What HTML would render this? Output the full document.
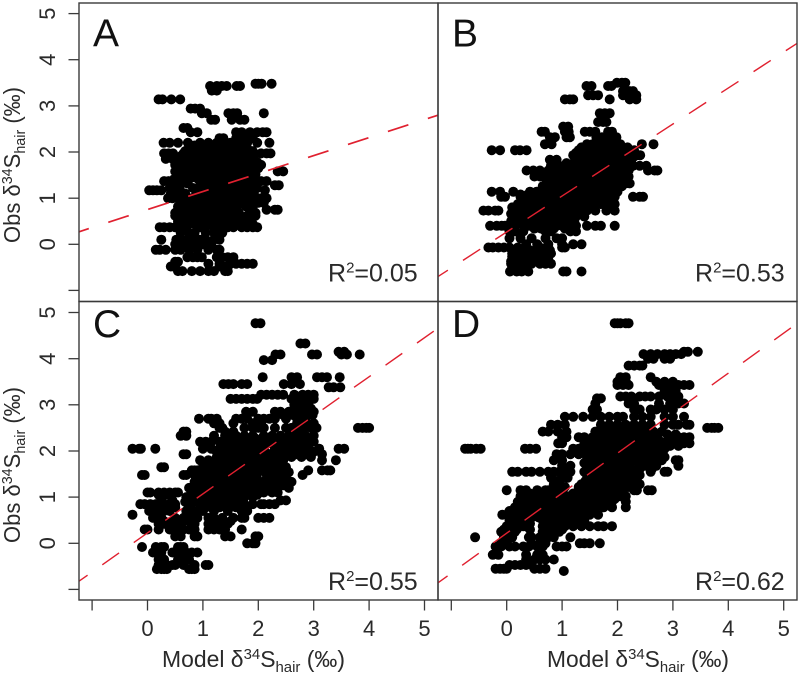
<!DOCTYPE html>
<html lang="en">
<head>
<meta charset="utf-8">
<title>Observed vs model hair sulfur isotope values</title>
<style>
html,body{margin:0;padding:0;background:#fff}
svg{display:block;font-family:"Liberation Sans",sans-serif}
</style>
</head>
<body>
<svg id="chart" xmlns="http://www.w3.org/2000/svg" width="800" height="678" viewBox="0 0 800 678">
  <rect x="0" y="0" width="800" height="678" fill="#fff"/>
  <g id="plots"></g>
  <g fill="#2a2a2a" font-size="23">
    <text transform="translate(20,243) rotate(-90)" textLength="156" lengthAdjust="spacingAndGlyphs">Obs δ<tspan font-size="15" dy="-8">34</tspan><tspan dy="8">S</tspan><tspan font-size="15" dy="5">hair</tspan><tspan dy="-5"> (‰)</tspan></text>
    <text transform="translate(20,543) rotate(-90)" textLength="156" lengthAdjust="spacingAndGlyphs">Obs δ<tspan font-size="15" dy="-8">34</tspan><tspan dy="8">S</tspan><tspan font-size="15" dy="5">hair</tspan><tspan dy="-5"> (‰)</tspan></text>
  </g>
  <g fill="#2a2a2a" font-size="23">
    <text x="162" y="667" textLength="183" lengthAdjust="spacingAndGlyphs">Model δ<tspan font-size="15" dy="-8">34</tspan><tspan dy="8">S</tspan><tspan font-size="15" dy="5">hair</tspan><tspan dy="-5"> (‰)</tspan></text>
    <text x="547" y="667" textLength="182" lengthAdjust="spacingAndGlyphs">Model δ<tspan font-size="15" dy="-8">34</tspan><tspan dy="8">S</tspan><tspan font-size="15" dy="5">hair</tspan><tspan dy="-5"> (‰)</tspan></text>
  </g>
</svg>
<script>
const yTickValues = [-1, 0, 1, 2, 3, 4, 5];
const xTickValues = [-1, 0, 1, 2, 3, 4, 5];
const yTickLabels = ["", "0", "1", "2", "3", "4", "5"];
const xTickLabels = ["", "0", "1", "2", "3", "4", "5"];
const panelLetters = ["A", "B", "C", "D"];
const rSquaredValues = ["0.05", "0.53", "0.55", "0.62"];
const fitIntercepts = [0.752, 0.267, 0.225, 0.22];
const fitSlopes = [0.39, 0.78, 0.846, 0.867];

const panelAObs = [3.48,3.43,3.33,3.14,2.94,2.84,2.7,2.52,2.43,2.3,2.2,2.08,1.97,1.85,1.72,1.58,1.45,1.37,1.28,1.17,1.0,0.9,0.75,0.62,0.5,0.37,0.25,0.1,0,-0.12,-0.28,-0.38,-0.42,-0.48,-0.58,
2.14,2.02,1.91,1.78,1.65,1.52,1.41,1.32,1.22,1.1,0.95,0.82,0.68,0.56,0.44];
const panelAModel = [
[1.95,2.0,2.06,2.24],
[1.13,1.25,1.34,1.43,1.61,1.67],
[1.16,1.25],
[0.2,0.27,0.43,0.59],
[0.78,0.86,0.95],
[0.98,1.07,1.46,1.55,1.62,2.1],
[1.15,1.22,1.52,1.67,1.75],
[0.65,0.72],
[0.78,0.9,1.6,1.7,1.85,1.98,2.08,2.15],
[1.3,1.37,1.6,1.75,1.85,1.9],
[0.29,0.4,0.55,0.73,0.95,1.1,1.25,1.4,1.5,1.65,1.8,1.98,2.2],
[0.75,0.9,1.05,1.2,1.35,1.5,1.65,1.8],
[0.3,0.38,0.46,0.65,0.8,0.95,1.1,1.25,1.4,1.55,1.7,1.85,2.05,2.15,2.22],
[0.33,0.45,0.55,0.7,0.85,1.0,1.15,1.3,1.45,1.6,1.75,1.9],
[0.5,0.62,0.75,0.9,1.05,1.2,1.35,1.5,1.65,1.8,1.95,2.05],
[0.5,0.6,0.7,0.85,1.0,1.15,1.3,1.45,1.6,1.75,1.9,2.35,2.45],
[0.55,0.7,0.85,1.0,1.15,1.3,1.45,1.6,1.75,1.9],
[0.3,0.38,0.5,0.62,1.0,1.2,1.35,1.5,1.65,1.8,2.05,2.15],
[0.55,0.95,1.1,1.25,1.4,1.55,1.7,1.85,2.3,2.37],
[0.03,0.1,0.17,0.25,0.5,0.9,1.05,1.2,1.35,1.5,1.65,1.8,1.9,2.12],
[0.37,0.45,0.55,0.62,0.8,0.95,1.1,1.25,1.4,1.55,1.75,1.85,2.05,2.15],
[0.6,0.75,0.9,1.05,1.2,1.35,1.5,1.65,1.85,2.0,2.1],
[0.55,0.7,0.85,1.0,1.15,1.3,1.45,1.6,1.85,2.15,2.3,2.35],
[0.5,0.6,0.7,0.8,1.0,1.2,1.4,1.6,1.8,1.95],
[0.55,0.7,0.9,1.0,1.1,1.2,1.3,1.4,1.5,1.6,1.75,1.85],
[0.22,0.3,0.4,0.5,0.6,0.7,0.95,1.05,1.2,1.3,1.45,1.55,1.7,1.8,1.9,1.98],
[0.6,0.75,0.85,1.05,1.2,1.35],
[0.25,0.52,0.62,0.72,0.8,0.95,1.05,1.2,1.3],
[0.5,0.6,0.7,0.85,1.0,1.15],
[0.15,0.22,0.33,0.5,0.6,0.75,0.9,1.1,1.25,1.3],
[0.72,0.82,0.9,0.98,1.25,1.35,1.45,1.55],
[0.5,0.55],
[1.1,1.3,1.5,1.6,1.7,1.8,1.9],
[0.42,0.47,1.3,1.4,1.45],
[0.55,0.63,0.8,0.95,1.1,1.2,1.4,1.45],
[0.75,0.85,1.0,1.12,1.22,1.32,1.45,1.55,1.68,1.78],
[0.68,0.82,0.92,1.02,1.12,1.22,1.32,1.42,1.52,1.62,1.72,1.82,1.9],
[0.6,0.72,0.82,0.92,1.02,1.12,1.22,1.32,1.42,1.52,1.62,1.72,1.82,1.92],
[0.55,0.68,0.78,0.88,0.98,1.08,1.18,1.28,1.38,1.48,1.58,1.68,1.78,1.88,1.98],
[0.55,0.66,0.78,0.92,1.08,1.22,1.38,1.52,1.68,1.82,1.92,2.0],
[0.55,0.66,0.78,0.92,1.08,1.22,1.38,1.52,1.68,1.82,1.95],
[0.48,0.6,0.75,0.92,1.08,1.22,1.38,1.52,1.68,1.85,1.95],
[0.72,1.05,1.15,1.28,1.42,1.58,1.72,1.92],
[0.4,0.48,0.58,0.82,0.98,1.12,1.28,1.42,1.58,1.72,1.85,1.98],
[0.42,0.52,0.68,0.88,1.02,1.18,1.32,1.48,1.62,1.78,1.92],
[0.62,0.72,0.82,0.98,1.12,1.28,1.42,1.58,1.72,1.95],
[0.55,0.65,0.75,0.88,1.08,1.28,1.42,1.62,1.78,1.9],
[0.5,0.6,0.7,0.85,1.05,1.25,1.45,1.65,1.85,1.95],
[0.6,0.7,0.8,0.92,1.1,1.3,1.45,1.55,1.7],
[0.55,0.65,0.75,0.85,1.05,1.25,1.35,1.55,1.7,1.9]
];

const panelBObs = [3.5,3.43,3.32,3.23,3.14,2.84,2.65,2.55,2.44,2.32,2.17,2.04,1.93,1.83,1.7,1.6,1.47,1.32,1.14,1.03,0.87,0.73,0.6,0.4,0.28,0.13,0,-0.07,-0.2,-0.33,-0.42,-0.59,
2.1,1.98,1.88,1.76,1.65,1.53,1.4,1.26,1.08,0.95,0.8,0.66,0.5,0.34,-0.13,-0.27,-0.37,-0.5];
const panelBModel = [
[1.99,2.08,2.14],
[1.44,1.53,1.83,1.89],
[2.1,2.22,2.28],
[1.47,1.56,1.65,2.1,2.22,2.34],
[1.05,1.14,1.2,1.86,2.22,2.34],
[1.68,1.77,1.86],
[1.65,1.74,1.8],
[1.02,1.11],
[0.63,0.69,1.05,1.12,1.41,1.5,1.6,1.83,1.9],
[0.78,0.87,1.08,1.14,1.62,1.72,1.82,1.92,1.98],
[0.69,0.81,1.45,1.55,1.65,1.75,1.85,1.95,2.05,2.44,2.65],
[-0.27,-0.12,0.15,0.24,0.36,1.3,1.4,1.5,1.6,1.7,1.8,1.9,2.0,2.1,2.2,2.3],
[1.2,1.3,1.45,1.55,1.65,1.75,1.85,1.95,2.05,2.15,2.35,2.41],
[0.78,0.9,1.25,1.4,1.5,1.6,1.7,1.8,1.9,2.0,2.1,2.2],
[0.8,0.95,1.3,1.45,1.55,1.65,1.75,1.85,1.95,2.05,2.15,2.28,2.4,2.52],
[0.36,0.48,0.6,0.75,0.85,1.05,1.2,1.35,1.5,1.65,1.8,1.95,2.1,2.2,2.55,2.67,2.72],
[0.5,0.6,0.7,0.8,0.9,1.05,1.2,1.35,1.5,1.65,1.8,1.95,2.1,2.2],
[0.75,0.9,1.05,1.2,1.35,1.5,1.65,1.8,1.95,2.15,2.22],
[-0.27,-0.12,0.12,0.42,0.54,0.7,0.85,1.0,1.1,1.25,1.4,1.55,1.7,1.85,2.0],
[-0.1,-0.03,0.25,0.35,0.5,0.7,0.85,1.0,1.2,1.4,1.6,1.8,1.95,2.28,2.4,2.46],
[0.2,0.35,0.45,0.7,0.8,0.9,1.0,1.1,1.25,1.4,1.55,1.7,1.85,1.95],
[-0.42,-0.33,-0.21,-0.15,0.15,0.25,0.6,0.7,0.8,0.9,1.0,1.1,1.3,1.45,1.6,1.8,1.95],
[0.15,0.3,0.4,0.6,0.7,0.8,0.9,1.0,1.15,1.25,1.4],
[-0.3,-0.18,-0.09,-0.03,0.05,0.15,0.3,0.4,0.55,0.7,0.8,0.9,1.0,1.2,1.25,1.45,1.6,1.7,1.95],
[0.05,0.15,0.3,0.7,0.8,1.15,1.25],
[0.05,0.25,0.45,0.7,0.9,1.0],
[0.35,0.55,0.75,1.0,1.2,1.35],
[-0.33,-0.25,-0.15,-0.05,0.05,0.2,0.35,0.6,0.75,1.0,1.05],
[0.1,0.2,0.35,0.5,0.6,0.8],
[0.1,0.2,0.3,0.4,0.55,0.65,0.75],
[0.08,0.2,0.3,0.45,0.6,0.7,0.8],
[0.06,0.18,0.27,0.39,1.02,1.08,1.35],
[1.35,1.48,1.58,1.68,1.78,1.88,1.98,2.08,2.18],
[1.25,1.38,1.48,1.58,1.68,1.78,1.88,1.98,2.08,2.18,2.28],
[1.28,1.38,1.48,1.58,1.68,1.78,1.88,1.98,2.08,2.18,2.28],
[1.08,1.2,1.32,1.42,1.52,1.62,1.72,1.82,1.92,2.02,2.12,2.25],
[0.95,1.1,1.22,1.32,1.42,1.52,1.62,1.72,1.82,1.92,2.02,2.12,2.22],
[0.85,0.95,1.08,1.18,1.28,1.38,1.48,1.58,1.68,1.78,1.88,1.98,2.08,2.18],
[0.72,0.85,0.95,1.08,1.18,1.28,1.38,1.48,1.58,1.68,1.78,1.88,1.98,2.12],
[0.65,0.78,0.9,1.0,1.1,1.2,1.3,1.4,1.5,1.6,1.7,1.82,1.95,2.08],
[0.25,0.38,0.6,0.72,0.82,0.92,1.02,1.12,1.22,1.32,1.42,1.52,1.62,1.75,1.9],
[0.3,0.5,0.62,0.72,0.82,0.92,1.02,1.12,1.22,1.32,1.42,1.52,1.65,1.8],
[0.1,0.28,0.42,0.55,0.65,0.75,0.85,0.95,1.05,1.15,1.25,1.35,1.5],
[0.08,0.2,0.35,0.5,0.62,0.72,0.82,0.92,1.02,1.12,1.22,1.32],
[0.08,0.2,0.35,0.5,0.62,0.72,0.82,0.92,1.02,1.12,1.22],
[0.5,0.62,0.72,0.85,1.05,1.15],
[0.15,0.28,0.42,0.55,0.68,0.78],
[0.1,0.25,0.38,0.5,0.62,0.72],
[0.08,0.18,0.3,0.42,0.55,0.65],
[0.1,0.22,0.35]
];

const panelCObs = [4.77,4.33,4.15,4.09,3.97,3.6,3.45,3.38,3.22,3.13,3.0,2.85,2.7,2.6,2.5,2.42,2.33,2.2,2.05,1.93,1.8,1.65,1.58,1.48,1.33,1.2,1.1,1.0,0.93,0.85,0.7,0.62,0.55,0.42,0.3,0.15,0,-0.08,-0.2,-0.35,-0.47,-0.56,
2.27,2.12,1.98,1.87,1.72,1.54,1.4,1.26,1.15,1.05,0.9,0.78,0.48,2.92,2.78];
const panelCModel = [
[1.95,2.04],
[2.76,2.85],
[3.45,3.55],
[2.31,2.4,2.97,3.06,3.5,3.6,3.83],
[2.1,2.25],
[2.08,2.6,2.7,3.06,3.15,3.24,3.47],
[1.37,1.46,1.55,1.7,1.8,2.46,2.6,2.75],
[3.27,3.36,3.48],
[2.05,2.15,2.25,2.35,2.45,2.65,2.8,2.9,3.0],
[1.5,1.6,1.7,1.8,1.9,1.98,2.6,2.75,2.85,3.0],
[2.65,2.8,2.9],
[1.78,1.9,2.3,2.4,2.55,2.7,2.8,3.0],
[0.93,1.1,1.15,1.25,1.6,1.7,1.8,2.0,2.1,2.2,2.3,2.5,2.7,2.85],
[1.2,1.3,1.55,1.9,2.05,2.7,2.85,3.0],
[1.3,1.35,1.75,1.9,2.0,2.1,2.3,2.5,2.6,2.8,2.95,3.05,3.8,3.88,3.95,4.0],
[0.65,0.7,1.4,1.55,2.65,2.8],
[0.6,0.7,1.2,1.4,1.5,1.6,1.75,1.9,2.1,2.25,2.4,2.55,2.7,2.85,3.0],
[0.95,1.05,1.15,1.3,1.45,1.6,1.75,1.9,2.05,2.2,2.35,2.5,2.65,2.8,3.0],
[-0.27,-0.15,-0.12,0.14,1.0,1.15,1.3,1.45,1.55,1.7,1.85,2.0,2.4,2.6,2.75,2.9,3.1,3.45,3.55],
[0.65,0.7,1.3,1.45,1.6,1.75,1.9,2.05,2.2,2.35,2.55,2.7,2.85,3.15],
[0.95,1.1,1.25,1.4,1.55,1.7,1.85,2.0,2.15,2.3,2.45,3.15,3.4],
[0.25,0.3,1.0,1.15,1.3,1.45,1.6,1.75,1.9,2.05,2.2,2.35,2.5],
[0.8,0.85,0.9,2.9,3.15,3.25,3.3],
[-0.1,-0.05,0.65,0.7,0.85,1.0,1.15,1.3,1.45,1.6,1.75,1.9,2.2,2.4,2.5,2.8],
[0.85,1.0,1.15,1.3,1.45,1.6,1.75,1.9,2.1,2.25,2.4,2.6],
[0.75,0.9,1.05,1.2,1.35,1.5,1.65,1.8,1.95,2.05,2.2,2.35,2.55],
[0,0.05,0.2,0.3,0.4,0.5,0.55,0.85,1.0,1.15,1.3,1.45,1.6,1.75,1.9,2.1,2.25,2.35],
[0.7,0.95,1.1,1.25,1.4,1.6,1.75,1.9],
[2.4,2.5,0.25,0.45],
[-0.13,-0.05,0.05,0.15,0.3,0.4,0.5,0.95,1.1,1.25,1.4,1.6,1.75,1.9,2.05,2.1,2.2,2.3],
[0.03,0.1,0.2,0.3,0.4,0.7,0.85,1.0,1.2,1.45,1.7,1.8],
[-0.27],
[0.1,0.2,0.25,0.5,0.65,0.8,0.9,1.1,1.2,1.35,1.55,1.7,1.75,2.0,2.1,2.2],
[0.2,0.3,0.4,0.5,0.6,0.85,1.1,1.3,1.45],
[-0.05,0,0.2,0.4,0.45,0.55,0.65,0.75,0.85,1.1,1.2,1.3,1.4,1.7],
[0.5,0.6,0.85,0.9,1.4,1.5,1.95,2.0],
[1.8,1.9,1.95],
[-0.1,0.15,0.25,0.3,0.55,0.6,0.65],
[0.1,0.15,0.25,0.45,0.5,0.6,0.7,0.8,0.9],
[0.2,0.3,0.55,0.7,0.75],
[0.2,0.3,0.35,0.45,0.5,0.65,0.85,1.05,1.1],
[0.17,0.25,0.3,0.35,0.75,0.8,0.85],
[1.55,1.68,1.82,1.95,2.08,2.2,2.32,2.45,2.58,2.72,2.88],
[1.38,1.52,1.68,1.82,1.95,2.12,2.28,2.42,2.58,2.72,2.9],
[1.25,1.38,1.52,1.68,1.82,1.95,2.12,2.28,2.5,2.68,2.85,3.0],
[1.25,1.38,1.52,1.68,1.82,1.95,2.12,2.4,2.6,2.78,2.95],
[1.05,1.18,1.32,1.48,1.62,1.78,1.92,2.1,2.3,2.42],
[1.08,1.22,1.38,1.52,1.68,1.82,1.98,2.12,2.3,2.45,2.55],
[0.95,1.08,1.22,1.38,1.52,1.68,1.82,1.98,2.15,2.3,2.5],
[0.9,1.02,1.18,1.28,1.42,1.58,1.7,1.85,1.98,2.3,2.45],
[0.82,0.92,1.08,1.22,1.38,1.52,1.68,1.82,2.2,2.32],
[0.2,0.35,0.78,0.9,1.05,1.2,1.35,1.5,1.65,1.8,1.98],
[0.68,0.82,0.95,1.1,1.25,1.42,1.58,1.72],
[0.15,0.5,0.75,0.95,1.05,1.15,1.3,1.45,1.6,1.78],
[0.3,0.45,0.65,0.75,1.2,1.35,1.5],
[2.65,2.72,2.85,2.95],
[2.45,2.62,2.72,2.88,2.98]
];

const panelDObs = [4.77,4.15,4.1,4.0,3.85,3.6,3.5,3.43,3.3,3.18,3.14,3.03,2.9,2.74,2.57,2.5,2.42,2.3,2.17,2.05,1.93,1.8,1.68,1.55,1.42,1.28,1.15,1.02,0.9,0.78,0.62,0.5,0.37,0.25,0.13,0,-0.07,-0.25,-0.35,-0.47,-0.55,-0.6,
2.36,2.23,2.11,1.99,1.87,1.74,1.61,1.48,1.35,1.22,1.08,0.96,0.84,0.7,0.56,0.43,0.3];
const panelDModel = [
[1.95,2.0,2.05,2.15,2.2],
[3.2,3.27,3.45],
[2.47,2.6,2.72,2.85,2.95,3.05,3.15],
[2.55,2.65,2.85,2.95],
[2.2,2.3,2.4,2.45],
[2.05,2.15,2.6],
[2.0,2.1,2.15,2.7,2.85,3.0],
[2.0,2.1,2.2,2.75,2.85,2.95,3.1,3.2,3.3],
[2.85,2.95,3.05],
[2.05,2.15,2.25,2.4,2.5,2.6,2.75,2.9,3.0,3.1],
[1.63,1.7],
[1.6,2.2,2.3,2.75,2.95,3.1,3.2],
[1.55,1.63,2.3,2.4,2.6,2.7,2.85,3.0],
[1.05,1.2,1.38,1.55,1.7,1.85,2.0,2.1,2.3,2.45,2.6,2.85,3.0,3.2],
[0.8,0.92,1.05,1.7,1.85,2.0,2.15,2.3,2.45,2.6,2.85,3.0,3.1,3.25,3.3],
[3.62,3.7,3.75,3.82],
[0.65,0.75,0.92,1.08,1.6,1.75,1.9,2.05,2.2,2.35,2.5,2.65,2.8],
[1.0,1.08,1.3,1.4,1.55,1.7,1.85,2.0,2.15,2.3,2.5,2.65,3.0,3.1,3.2,3.3],
[0.93,1.0,1.4,1.55,1.7,1.85,2.0,2.15,2.3,2.45,2.6,2.75,2.85,3.2,3.3],
[-0.75,-0.7,-0.65,-0.55,-0.47,0.33,0.42,0.53,1.2,1.3,1.5,1.65,1.8,1.95,2.1,2.25,2.4,2.55,2.7,2.85],
[0.9,1.0,1.15,1.3,1.55,1.7,1.85,2.0,2.15,2.3,2.45,2.6,2.75],
[0.85,1.0,1.5,1.65,1.8,1.95,2.1,2.3,2.45,2.6,2.8,3.05,3.1],
[1.0,1.15,1.55,1.7,1.9,2.05,2.2,2.5,2.7,3.1],
[0.1,0.2,0.35,0.45,0.6,0.75,0.85,0.95,1.05,1.15,1.4,1.55,1.7,1.85,2.05,2.3,2.6,2.85,2.9],
[0.8,1.0,1.1,1.5,1.65,1.8,1.95,2.1,2.35],
[0.85,0.95,1.35,1.5,1.65,1.8,1.95,2.15,2.3,2.4],
[0,0.25,0.35,0.55,0.7,0.75,0.85,1.0,1.35,1.5,1.65,1.8,1.95,2.1,2.3,2.35,2.55,2.62],
[0.25,0.35,0.5,0.7,0.8,0.95,1.1,1.25,1.4,1.55,1.7,1.85,2.05,2.15],
[0.2,0.3,0.4,0.55,0.85,1.0,1.15,1.3,1.45,1.6,1.75,1.9,2.15],
[0.15,0.25,0.35,0.5,0.65,0.8,0.95,1.1,1.3,1.45,1.6,1.75,1.9,2.15],
[-0.08,0,0.15,0.3,0.45,0.6,0.7,0.85,1.0,1.15,1.35,1.5,1.65],
[0.05,0.15,0.25,0.4,0.65,0.8,0.95,1.05,1.25,1.4],
[0,0.1,0.3,0.35,0.65,0.75,0.9,1.05,1.2,1.35,1.5,1.65,1.75,1.9],
[-0.1,0.05,0.15,0.65,0.8,0.95],
[-0.57,-0.05,0.1,0.4,0.45,0.6,0.75,0.85,1.15],
[-0.1,0,0.45,0.6,0.7,1.32,1.4,1.5,1.68],
[-0.2,-0.1,0.05,0.15,0.3,0.4,0.55,0.65,0.9,1.0,1.08],
[-0.25,-0.15,0.35,0.55,0.65],
[0.35,0.5,0.6,0.7,0.85],
[0.05,0.15,0.25,0.35,0.45],
[-0.2,-0.12,-0.05,0,0.5,0.6,0.7],
[1.03],
[1.62,1.82,1.98,2.12,2.28,2.42,2.58,2.72,2.9,3.05],
[1.48,1.62,1.78,1.92,2.08,2.22,2.4,2.58,2.75,2.9,3.05],
[1.48,1.62,1.78,1.92,2.08,2.22,2.38,2.52,2.68,2.8,2.95,3.1],
[1.42,1.58,1.72,1.92,2.08,2.22,2.38,2.52,2.68,2.82],
[1.45,1.62,1.78,1.92,2.08,2.22,2.38,2.52,2.68,2.85],
[1.4,1.58,1.72,1.88,2.02,2.18,2.38,2.55,2.7],
[1.45,1.62,1.78,1.92,2.1,2.25,2.4,2.62],
[1.05,1.45,1.58,1.72,1.88,2.02,2.18,2.3,2.4],
[0.9,1.42,1.58,1.72,1.88,2.02,2.2,2.35],
[0.88,1.05,1.3,1.42,1.58,1.72,1.88,2.02,2.2,2.35],
[0.3,0.42,0.65,0.85,1.2,1.35,1.5,1.62,1.78,1.92,2.08],
[0.28,0.42,0.58,0.72,0.88,1.05,1.2,1.35,1.5,1.62,1.78,1.95],
[0.2,0.3,0.42,0.6,0.72,0.9,1.05,1.2,1.38,1.52,1.68,1.82],
[0.05,0.18,0.28,0.4,0.55,0.72,0.88,1.05,1.22,1.38,1.55],
[0.08,0.2,0.32,0.45,0.58,0.72,0.88,1.02,1.18,1.32],
[0.05,0.2,0.3,0.42,0.7,0.85,1.0,1.15,1.3],
[-0.05,0.08,0.18,0.42,0.7,0.85,1.0]
];

const obsByPanel = [panelAObs, panelBObs, panelCObs, panelDObs];
const modelByPanel = [panelAModel, panelBModel, panelCModel, panelDModel];

const NS = "http://www.w3.org/2000/svg";
const plots = document.getElementById("plots");
const COL_LEFT = [79, 438];
const COL_RIGHT = [438, 797];
const ROW_TOP = [3, 301.5];
const ROW_BOTTOM = [301.5, 600];
const X_ZERO = [147.5, 506.7];
const Y_ZERO = [244.3, 543.3];
const X_UNIT = 55.4;
const Y_UNIT = 46.15;
const AXIS_COLOR = "#3a3a3a";
const FIT_COLOR = "#e0202f";
const DASH_PATTERNS = ["21.5 20.5", "20.5 18", "20.5 18", "20.5 18"];
const DASH_OFFSETS = [11.2, 8.7, 10, 8.7];
const FIT_WIDTHS = [1.7, 1.4, 1.4, 1.4];

function xScale(col, v) { return X_ZERO[col] + v * X_UNIT; }
function yScale(row, v) { return Y_ZERO[row] - v * Y_UNIT; }
function xInvert(col, px) { return (px - X_ZERO[col]) / X_UNIT; }

function make(tag, attrs, parent) {
  const el = document.createElementNS(NS, tag);
  for (const k in attrs) el.setAttribute(k, attrs[k]);
  parent.appendChild(el);
  return el;
}

panelLetters.forEach(function (letter, i) {
  const key = letter.toLowerCase();
  const col = i % 2;
  const row = i < 2 ? 0 : 1;
  const g = make("g", {}, plots);
  
  

  const pts = make("g", { fill: "#000" }, g);
  
  
  obsByPanel[i].forEach(function (obs, r) {
    (modelByPanel[i][r] || []).forEach(function (model) {
      const c = make("circle", { cx: xScale(col, model).toFixed(1), cy: yScale(row, obs).toFixed(1), r: 5 }, pts);
      
      
    });
  });

  const xa = xInvert(col, COL_LEFT[col]);
  const xb = xInvert(col, COL_RIGHT[col]);
  const fit = make("line", {
    x1: COL_LEFT[col], x2: COL_RIGHT[col],
    y1: yScale(row, fitIntercepts[i] + fitSlopes[i] * xa).toFixed(1),
    y2: yScale(row, fitIntercepts[i] + fitSlopes[i] * xb).toFixed(1),
    stroke: FIT_COLOR, "stroke-width": FIT_WIDTHS[i],
    "stroke-dasharray": DASH_PATTERNS[i], "stroke-dashoffset": DASH_OFFSETS[i]
  }, g);
  
  

  const frame = make("rect", {
    x: COL_LEFT[col], y: ROW_TOP[row],
    width: COL_RIGHT[col] - COL_LEFT[col], height: ROW_BOTTOM[row] - ROW_TOP[row],
    fill: "none", stroke: AXIS_COLOR, "stroke-width": 1.4
  }, g);
  
  

  const lab = make("text", {
    x: COL_LEFT[col] + 14, y: row === 0 ? 46.5 : 337,
    "font-size": 39, fill: "#111"
  }, g);
  lab.textContent = letter;
  
  

  const r2 = make("text", {
    x: col === 0 ? 328 : 695, y: row === 0 ? 281.7 : 590,
    "font-size": 25, fill: "#2a2a2a"
  }, g);
  
  
  r2.appendChild(document.createTextNode("R"));
  const sup = make("tspan", { "font-size": 15, dy: -9 }, r2);
  sup.textContent = "2";
  const rest = make("tspan", { dy: 9 }, r2);
  rest.textContent = "=" + rSquaredValues[i];

  if (col === 0) {
    yTickValues.forEach(function (v, t) {
      const y = yScale(row, v);
      const tick = make("line", { x1: 68.5, x2: COL_LEFT[0], y1: y.toFixed(1), y2: y.toFixed(1), stroke: AXIS_COLOR, "stroke-width": 1.3 }, g);
      
      
      if (yTickLabels[t]) {
        const tl = make("text", {
          transform: "translate(55," + y.toFixed(1) + ") rotate(-90)",
          "text-anchor": "middle", "font-size": 22, fill: "#2a2a2a"
        }, g);
        tl.textContent = yTickLabels[t];
        
        
      }
    });
  }
  if (row === 1) {
    xTickValues.forEach(function (v, t) {
      const x = xScale(col, v);
      const tick = make("line", { x1: x.toFixed(1), x2: x.toFixed(1), y1: ROW_BOTTOM[1], y2: 610.5, stroke: AXIS_COLOR, "stroke-width": 1.3 }, g);
      
      
      if (xTickLabels[t]) {
        const tl = make("text", { x: x.toFixed(1), y: 636, "text-anchor": "middle", "font-size": 22, fill: "#2a2a2a" }, g);
        tl.textContent = xTickLabels[t];
        
        
      }
    });
  }
});
</script>
</body>
</html>
